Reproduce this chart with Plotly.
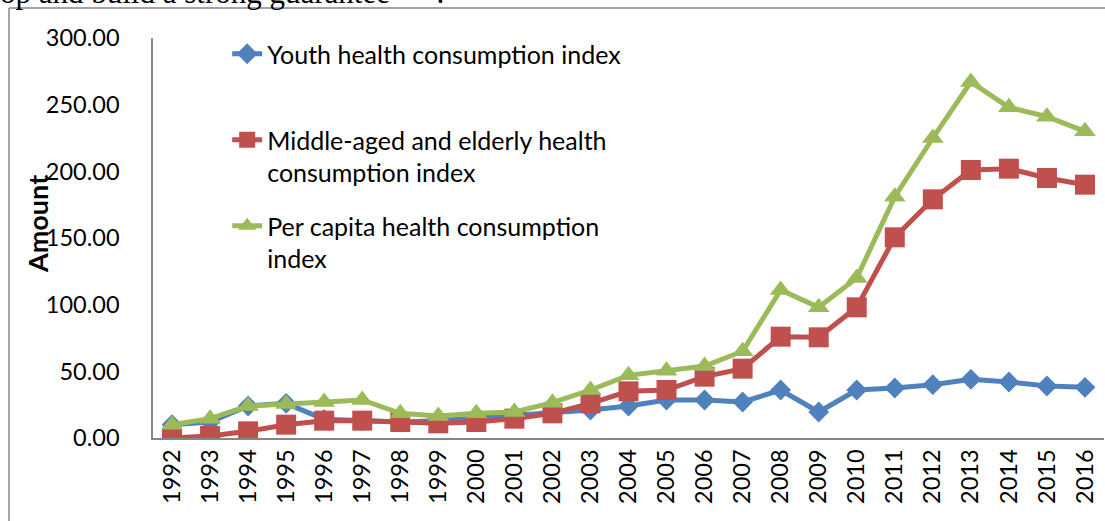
import plotly.graph_objects as go

years = list(range(1992, 2017))
youth = [10, 12, 24, 26, 14, 13, 12, 13, 15, 17, 19, 21, 24, 28.5, 28.5, 27,
         36, 19.5, 36, 37.5, 40, 44, 42, 39, 38]
middle = [0, 1.5, 5, 10, 13, 13, 12, 11, 12, 14.5, 18.5, 26, 35, 36, 46, 52,
          76, 75.5, 98, 150.5, 179, 201, 202, 195, 190]
percap = [10, 14.5, 24, 25.5, 27, 28.5, 18.5, 16.5, 18.5, 19.5, 26.5, 36, 47,
          50.5, 54, 65, 111, 98, 120, 181, 225, 267, 248, 241, 230]
y_ticks = [0, 50, 100, 150, 200, 250, 300]

names = ["Youth health consumption index<br> ",
         "Middle-aged and elderly health<br>consumption index",
         "Per capita health consumption<br>index"]
colors = ["#4F81BD", "#C0504D", "#9BBB59"]
symbols = ["diamond", "square", "triangle-up"]
msizes = [16, 20, 19]
series = [youth, middle, percap]

FONT = "Lato"

fig = go.Figure()
for i in range(3):
    fig.add_trace(go.Scatter(
        x=years, y=series[i], name=names[i], mode="lines+markers",
        legendgroup=f"g{i}",
        line=dict(color=colors[i], width=5),
        marker=dict(symbol=symbols[i], size=msizes[i], color=colors[i]),
    ))

gray = "#868686"
fig.update_layout(
    width=1105, height=521,
    margin=dict(l=153, r=1, t=38, b=83),
    paper_bgcolor="white", plot_bgcolor="white",
    font=dict(family=FONT, size=25, color="black"),
    showlegend=True,
    legend=dict(x=0.078, y=1.0175, xanchor="left", yanchor="top",
                bgcolor="rgba(0,0,0,0)", valign="top", tracegroupgap=18,
                font=dict(family=FONT, size=25, color="black")),
    xaxis=dict(range=[1991.5, 2016.5], tickvals=years,
               ticktext=[str(y) for y in years], tickangle=-90,
               showgrid=False, zeroline=False, showline=True,
               linecolor=gray, linewidth=2, ticks="",
               tickfont=dict(family=FONT, size=23.5, color="black")),
    yaxis=dict(range=[0, 300], tickvals=y_ticks, tickformat=".2f",
               showgrid=False, zeroline=False, showline=True,
               linecolor=gray, linewidth=1.5, ticks="",
               ticklabelstandoff=27,
               tickfont=dict(family=FONT, size=23.5, color="black")),
)

fig.add_annotation(text="<b>Amount</b>", xref="paper", yref="paper",
                   x=-0.122, y=0.535, xanchor="center", yanchor="middle",
                   textangle=-90, showarrow=False,
                   font=dict(family=FONT, size=27, color="black"))

fig.add_annotation(text="op and build a strong guarantee\u00a0\u00a0\u00a0\u00a0\u00a0\u00a0.",
                   xref="paper", yref="paper",
                   x=-0.163, y=1.1125, xanchor="left", yanchor="middle",
                   showarrow=False,
                   font=dict(family="Liberation Serif", size=31, color="black"))

# outer frame (cut off at right and bottom)
fig.add_shape(type="line", xref="paper", yref="paper",
              x0=-0.1514, x1=1.05, y0=1.075, y1=1.075,
              line=dict(color=gray, width=1.5))
fig.add_shape(type="line", xref="paper", yref="paper",
              x0=-0.1514, x1=-0.1514, y0=1.075, y1=-0.3,
              line=dict(color=gray, width=1.5))

fig.write_html("out.html", config={"displayModeBar": False},
               post_script="document.body.style.margin='0';document.body.style.overflow='hidden';")
